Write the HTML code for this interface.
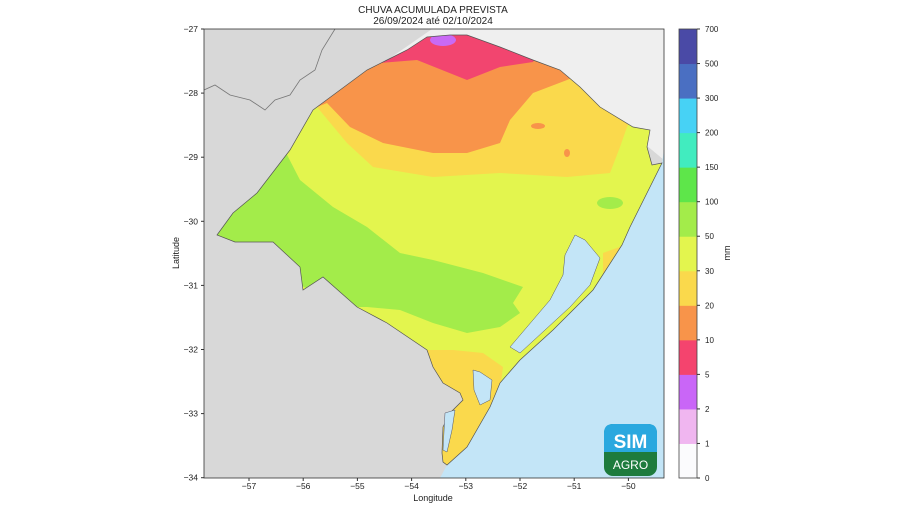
<!DOCTYPE html>
<html><head><meta charset="utf-8"><style>
body{margin:0;background:#fff;}
svg text{font-family:"Liberation Sans",sans-serif;fill:#222;}
</style></head><body>
<svg id="chart" width="904" height="508" viewBox="0 0 904 508" xmlns="http://www.w3.org/2000/svg">
<defs>
<clipPath id="plotclip"><rect x="204" y="29" width="460" height="449"/></clipPath>
<clipPath id="rsclip"><path id="rsd" d="M217,235 L233,213 L257,193 L290,150 L313,110 L340,90 L367,70 L387,60 L407,50 L427,37 L450,35 L467,35 L500,47 L533,60 L560,70 L580,87 L600,107 L633,127 L650,130 L647,147 L652,165 L662,163 L647,193 L630,227 L622,245 L593,290 L553,330 L520,360 L500,383 L490,407 L467,447 L447,465 L443,462 L442,453 L443,427 L450,413 L463,400 L460,393 L443,383 L433,367 L427,350 L387,323 L357,307 L323,277 L303,290 L300,267 L273,242 L235,242 Z"/></clipPath>
</defs>
<text x="433" y="13" text-anchor="middle" font-size="10">CHUVA ACUMULADA PREVISTA</text>
<text x="433" y="24" text-anchor="middle" font-size="10">26/09/2024 até 02/10/2024</text>
<g clip-path="url(#plotclip)">
<rect x="204" y="29" width="460" height="449" fill="#d8d8d8"/>
<path d="M432,29 L664,29 L664,160 L640,140 L318,108 Z" fill="#efefef"/>
<path d="M664,150 L662,163 L647,193 L630,227 L622,245 L593,290 L553,330 L520,360 L500,383 L490,407 L467,447 L447,465 L440,478 L664,478 Z" fill="#c3e5f7"/>
<path d="M204,90 L215,85 L230,95 L250,100 L265,110 L275,100 L290,95 L300,80 L315,70 L322,50 L335,29" fill="none" stroke="#777" stroke-width="0.8"/>
<g clip-path="url(#rsclip)">
<rect x="204" y="29" width="460" height="449" fill="#e3f54e"/>
<path d="M200,140 L250,140 L283,147 L300,180 L333,207 L367,227 L400,253 L433,260 L483,273 L523,287 L513,303 L520,313 L500,327 L467,333 L433,323 L400,310 L367,307 L353,307 L330,300 L300,285 L270,260 L200,250 Z" fill="#a3ec4a"/>
<ellipse cx="610" cy="203" rx="13" ry="6" fill="#a3ec4a"/>
<path d="M300,100 L317,107 L347,143 L373,167 L433,177 L500,173 L567,177 L610,173 L620,147 L627,127 L640,100 L600,60 L300,40 Z" fill="#fad94c"/>
<path d="M427,350 L453,350 L483,353 L503,367 L500,390 L490,417 L477,447 L470,480 L400,480 L400,350 Z" fill="#fad94c"/>
<path d="M603,253 L625,245 L617,273 L603,273 Z" fill="#fad94c"/>
<path d="M300,100 L317,107 L327,103 L350,127 L383,143 L433,153 L467,153 L500,143 L510,120 L533,93 L567,80 L590,70 L500,30 L300,30 Z" fill="#f8944a"/>
<ellipse cx="538" cy="126" rx="7" ry="3" fill="#f8944a"/>
<ellipse cx="567" cy="153" rx="3" ry="4" fill="#f8944a"/>
<path d="M360,70 L380,63 L417,60 L467,80 L500,67 L533,62 L545,40 L400,30 Z" fill="#f2456f"/>
<ellipse cx="443" cy="40" rx="13" ry="6" fill="#c96af5"/>
</g>
<use href="#rsd" fill="none" stroke="#555" stroke-width="0.7"/>
<path d="M575,235 L585,240 L600,258 L590,285 L570,307 L545,330 L520,353 L510,347 L527,327 L550,300 L563,275 L565,255 Z" fill="#c3e5f7" stroke="#556" stroke-width="0.5"/>
<path d="M473,370 L480,372 L492,380 L490,400 L480,405 L474,390 Z" fill="#c3e5f7" stroke="#556" stroke-width="0.5"/>
<path d="M445,413 L455,410 L452,430 L447,452 L443,450 Z" fill="#c3e5f7" stroke="#556" stroke-width="0.5"/>
</g>
<rect x="204" y="29" width="460" height="449" fill="none" stroke="#333" stroke-width="0.8"/>
<g>
<rect x="604" y="424" width="53" height="52" rx="9" fill="#1e7b3d"/>
<path d="M604,452 L604,433 Q604,424 613,424 L648,424 Q657,424 657,433 L657,452 Z" fill="#2aa8df"/>
<text x="630.5" y="448" text-anchor="middle" font-size="19" font-weight="bold" style="fill:#fff">SIM</text>
<text x="630.5" y="469" text-anchor="middle" font-size="12" style="fill:#fff">AGRO</text>
</g>
<g id="axes"></g>
<g id="cbar"></g>
<text x="433" y="501" text-anchor="middle" font-size="9">Longitude</text>
<text x="0" y="0" transform="translate(179,253) rotate(-90)" text-anchor="middle" font-size="9">Latitude</text>
<text x="0" y="0" transform="translate(730,253) rotate(-90)" text-anchor="middle" font-size="9">mm</text>
</svg>
<script>
const lonTicks=[-57,-56,-55,-54,-53,-52,-51,-50];
const latTicks=[-27,-28,-29,-30,-31,-32,-33,-34];
const levels=[0,1,2,5,10,20,30,50,100,150,200,300,500,700];
const levelColors=["#fbfbfd","#f0b6f0","#c966f7","#f4446e","#f8944a","#fad94c","#e3f54e","#a3ec4a","#5ee64a","#41ecbf","#47d2f5","#4a6fc2","#4a4aa6"];
const NS="http://www.w3.org/2000/svg";
const xs=lon=>249+(lon+57)*54.2;
const ys=lat=>29+(-27-lat)*64.1;
const ax=document.getElementById('axes');
function mk(t,a,p){const e=document.createElementNS(NS,t);for(const k in a)e.setAttribute(k,a[k]);p.appendChild(e);return e;}
lonTicks.forEach(v=>{const x=xs(v);
const l=mk('line',{x1:x,x2:x,y1:478,y2:481,stroke:'#333'},ax);


const t=mk('text',{x:x,y:489,'text-anchor':'middle','font-size':'8.5'},ax);t.textContent='\u2212'+Math.abs(v);

});
latTicks.forEach(v=>{const y=ys(v);
const l=mk('line',{x1:201,x2:204,y1:y,y2:y,stroke:'#333'},ax);


const t=mk('text',{x:198,y:y+3,'text-anchor':'end','font-size':'8.5'},ax);t.textContent='\u2212'+Math.abs(v);

});
const cb=document.getElementById('cbar');
const cbTop=29,cbBot=478,nBins=levelColors.length,binH=(cbBot-cbTop)/nBins;
levelColors.forEach((c,i)=>{const r=mk('rect',{x:679,y:cbBot-(i+1)*binH,width:18,height:binH+0.5,fill:c},cb);

});
mk('rect',{x:679,y:cbTop,width:18,height:cbBot-cbTop,fill:'none',stroke:'#444','stroke-width':0.8},cb);
levels.forEach((v,i)=>{const y=cbBot-i*binH;
mk('line',{x1:697,x2:700,y1:y,y2:y,stroke:'#333'},cb);
const t=mk('text',{x:705,y:y+3,'font-size':'8'},cb);t.textContent=v;

});
</script>
</body></html>
